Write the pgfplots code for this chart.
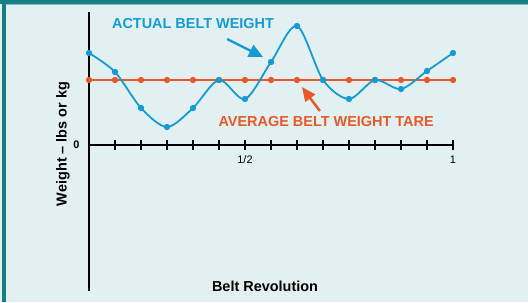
\documentclass[border=0pt]{standalone}
\usepackage{pgfplots}
\pgfplotsset{compat=1.18}
\usepackage{fontspec}
\setmainfont{Liberation Sans}
\usetikzlibrary{arrows.meta}
\definecolor{bg}{RGB}{226,240,242}
\definecolor{tealb}{RGB}{22,126,132}
\definecolor{bblue}{RGB}{20,155,215}
\definecolor{borange}{RGB}{232,88,40}
\begin{document}
\begin{tikzpicture}[x=1bp,y=1bp]
\fill[bg] (0,0) rectangle (528,302);
\fill[tealb] (2,0) rectangle (6,302);
\fill[tealb] (0,298) rectangle (528,302);
\fill[tealb!45!bg] (6,296.8) rectangle (528,298);
\path[use as bounding box] (0,0) rectangle (528,302);
\begin{axis}[
  at={(89bp,11bp)}, anchor=south west,
  scale only axis, width=364bp, height=279bp,
  xmin=0, xmax=14, ymin=-146, ymax=133,
  axis x line=middle, axis y line=left,
  hide obscured x ticks=false, hide obscured y ticks=false,
  axis line style={-, line width=1.6bp, black},
  xtick={0,...,14}, xticklabels={,,,,,,1/2,,,,,,,,1},
  ytick={0}, yticklabels={\textbf{0}},
  major tick length=10bp, tick align=center,
  x tick style={line width=1.6bp, black},
  y tick style={draw=none},
  /pgf/number format/assume math mode=true,
  tick label style={font=\fontsize{11}{12}\selectfont},
  xticklabel style={yshift=-2bp},
  yticklabel style={xshift=-1bp},
  clip=false,
]
\addplot[borange, line width=1.8bp, mark=*, mark size=2.2bp, mark options={fill=borange}]
  coordinates {(0,65)(1,65)(2,65)(3,65)(4,65)(5,65)(6,65)(7,65)(8,65)(9,65)(10,65)(11,65)(12,65)(13,65)(14,65)};
\addplot[bblue, line width=1.8bp, smooth, mark=*, mark size=2.2bp, mark options={fill=bblue}]
  coordinates {(0,92)(1,73)(2,37)(3,18)(4,37)(5,65)(6,46)(7,83)(8,119)(9,65)(10,46)(11,65)(12,56)(13,74)(14,92)};
\draw[bblue, line width=2.3bp, -{Triangle[length=14bp,width=13bp]}] (axis cs:5.31,106) -- (axis cs:6.69,88);
\draw[borange, line width=2.5bp, -{Triangle[length=14bp,width=12bp]}] (axis cs:8.88,34) -- (axis cs:8.19,58);
\node[bblue, font=\bfseries\fontsize{14.5}{16}\selectfont] at (axis cs:4.0,121) {ACTUAL BELT WEIGHT};
\node[borange, font=\bfseries\fontsize{14.5}{16}\selectfont] at (axis cs:9.12,23) {AVERAGE BELT WEIGHT TARE};
\node[black, font=\bfseries\fontsize{14.5}{16}\selectfont] at (axis cs:6.77,-141) {Belt Revolution};
\node[black, rotate=90, font=\bfseries\fontsize{14.5}{16}\selectfont] at (axis cs:-1.0,1) {Weight – lbs or kg};
\end{axis}
\end{tikzpicture}
\end{document}
